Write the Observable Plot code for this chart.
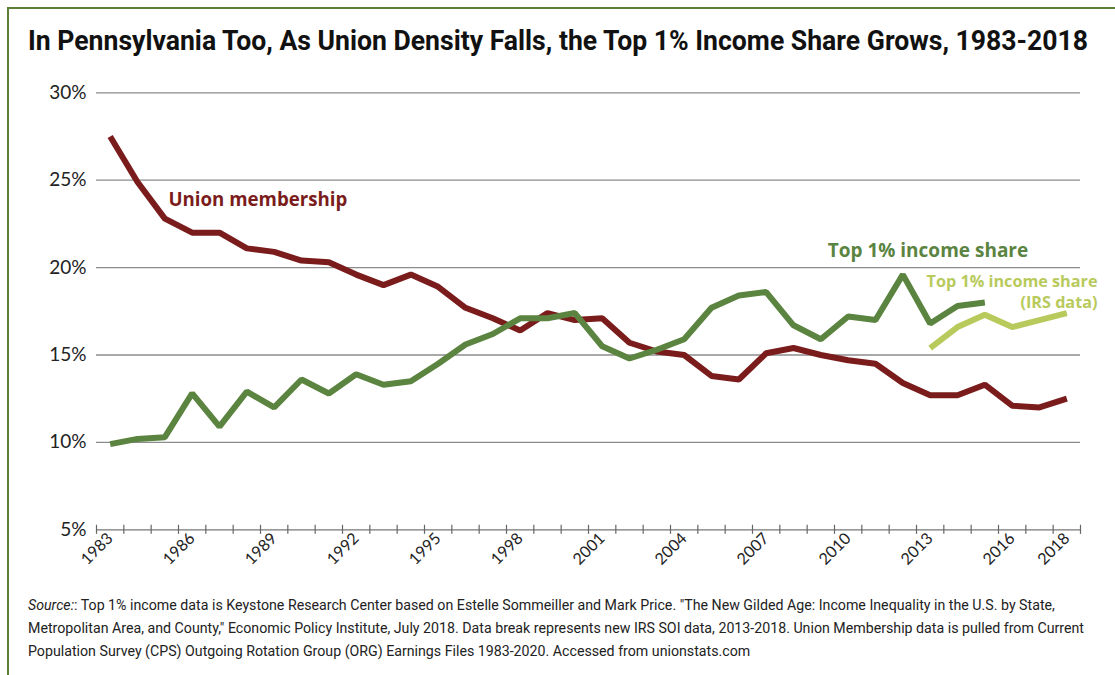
<!DOCTYPE html>
<html><head><meta charset="utf-8">
<script src="https://cdn.jsdelivr.net/npm/d3@7"></script>
<script src="https://cdn.jsdelivr.net/npm/@observablehq/plot@0.6"></script>
<style>
body{margin:0;background:#fff;width:1115px;height:675px;overflow:hidden;position:relative;font-family:Lato,sans-serif}
#frame{position:absolute;left:7px;top:7px;right:-10px;bottom:-10px;border-top:2px solid #5b7f3b;border-left:2px solid #5b7f3b}
#title{position:absolute;left:28px;top:24px;font:bold 28px Roboto,sans-serif;white-space:nowrap;color:#111;transform-origin:0 0;display:inline-block}
#chart{position:absolute;left:0;top:70px}
#caption{position:absolute;left:28px;top:594px;font:15px Roboto,sans-serif;line-height:23px;color:#222;white-space:nowrap;transform-origin:0 0;display:inline-block}
</style></head>
<body>
<div id="frame"></div>
<div id="title">In Pennsylvania Too, As Union Density Falls, the Top 1% Income Share Grows, 1983-2018</div>
<div id="chart"></div>
<div id="caption"><i>Source:</i>: Top 1% income data is Keystone Research Center based on Estelle Sommeiller and Mark Price. "The New Gilded Age: Income Inequality in the U.S. by State,<br>Metropolitan Area, and County," Economic Policy Institute, July 2018. Data break represents new IRS SOI data, 2013-2018. Union Membership data is pulled from Current<br>Population Survey (CPS) Outgoing Rotation Group (ORG) Earnings Files 1983-2020. Accessed from unionstats.com</div>
<script>
const years = [1983,1984,1985,1986,1987,1988,1989,1990,1991,1992,1993,1994,1995,1996,1997,1998,1999,2000,2001,2002,2003,2004,2005,2006,2007,2008,2009,2010,2011,2012,2013,2014,2015,2016,2017,2018];
const unionValues = [27.5,24.9,22.8,22.0,22.0,21.1,20.9,20.4,20.3,19.6,19.0,19.6,18.9,17.7,17.1,16.4,17.4,17.0,17.1,15.7,15.2,15.0,13.8,13.6,15.1,15.4,15.0,14.7,14.5,13.4,12.7,12.7,13.3,12.1,12.0,12.5];
const top1Years = [1983,1984,1985,1986,1987,1988,1989,1990,1991,1992,1993,1994,1995,1996,1997,1998,1999,2000,2001,2002,2003,2004,2005,2006,2007,2008,2009,2010,2011,2012,2013,2014,2015];
const top1Values = [9.9,10.2,10.3,12.8,10.9,12.9,12.0,13.6,12.8,13.9,13.3,13.5,14.5,15.6,16.2,17.1,17.1,17.4,15.5,14.8,15.3,15.9,17.7,18.4,18.6,16.7,15.9,17.2,17.0,19.6,16.8,17.8,18.0];
const irsYears = [2013,2014,2015,2016,2017,2018];
const irsValues = [15.4,16.6,17.3,16.6,17.0,17.4];
const yTicks = [5,10,15,20,25,30];
const xTickLabels = [1983,1986,1989,1992,1995,1998,2001,2004,2007,2010,2013,2016,2018];
const seriesLabels = ["Union membership","Top 1% income share","Top 1% income share","(IRS data)"];

const colUnion = "#7b1c1c", colTop = "#5a843f", colIrs = "#b8ca5c";
const union = years.map((y,i)=>({year:y, value:unionValues[i]}));
const top1 = top1Years.map((y,i)=>({year:y, value:top1Values[i]}));
const irs = irsYears.map((y,i)=>({year:y, value:irsValues[i]}));
const bounds = years.concat([years[years.length-1]+1]).map(y=>y-0.5);

const chart = Plot.plot({
  width:1115, height:500,
  marginLeft:96, marginRight:35, marginTop:22.3, marginBottom:40.7,
  style:{fontFamily:"Lato, sans-serif", color:"#222", background:"transparent"},
  x:{domain:[1982.5,2018.5]},
  y:{domain:[5,30]},
  marks:[
    Plot.ruleY(yTicks.filter(d=>d>5), {stroke:"#8c8c8c", strokeWidth:1.3}),
    Plot.ruleY([5], {stroke:"#777", strokeWidth:1.2}),
    Plot.ruleX(bounds, {y1:4.74, y2:5.26, stroke:"#666", strokeWidth:1.2}),
    Plot.axisY(yTicks, {tickSize:0, tickPadding:10, tickFormat:d=>d+"%", fontSize:19, label:null}),
    Plot.axisX(xTickLabels, {tickSize:0, tickRotate:-45, tickPadding:6, tickFormat:d=>String(d), fontSize:16, label:null}),
    Plot.line(union, {x:"year", y:"value", stroke:colUnion, strokeWidth:6, strokeLinejoin:"miter", strokeLinecap:"butt"}),
    Plot.line(top1, {x:"year", y:"value", stroke:colTop, strokeWidth:6, strokeLinejoin:"miter", strokeLinecap:"butt"}),
    Plot.line(irs, {x:"year", y:"value", stroke:colIrs, strokeWidth:6, strokeLinejoin:"miter", strokeLinecap:"butt"}),
    Plot.text([seriesLabels[0]], {x:1985.13, y:23.84, text:d=>d, textAnchor:"start", fill:colUnion, fontSize:18.7, fontWeight:"bold", fontFamily:"Open Sans"}),
    Plot.text([seriesLabels[1]], {x:2009.25, y:20.98, text:d=>d, textAnchor:"start", fill:colTop, fontSize:19, fontWeight:"bold", fontFamily:"Open Sans"}),
    Plot.text([seriesLabels[2]], {x:2019.12, y:19.17, text:d=>d, textAnchor:"end", fill:colIrs, fontSize:16.2, fontWeight:"bold", fontFamily:"Open Sans"}),
    Plot.text([seriesLabels[3]], {x:2019.12, y:17.97, text:d=>d, textAnchor:"end", fill:colIrs, fontSize:16.2, fontWeight:"bold", fontFamily:"Open Sans"})
  ]
});
document.getElementById("chart").appendChild(chart);

function fit(id, target){
  const el = document.getElementById(id);
  const w = el.getBoundingClientRect().width;
  el.style.transform = "scaleX(" + (target / w) + ")";
}
fit("title", 1060);
fit("caption", 1056);
</script>
</body></html>
